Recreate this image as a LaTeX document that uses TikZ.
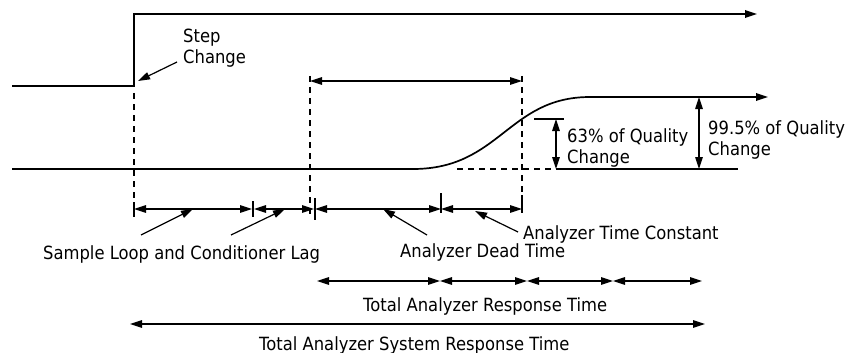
\documentclass[tikz,border=0pt]{standalone}
\usepackage{fontspec}
\setmainfont[FakeStretch=0.9]{DejaVu Sans}
\usetikzlibrary{arrows.meta}

\begin{document}
\begin{tikzpicture}[x=1pt, y=-1pt, >={Triangle[length=12pt,width=7.5pt]},
    signal/.style={line width=1.7pt},
    dim/.style={line width=1.2pt},
    guide/.style={line width=1.2pt, dash pattern=on 6pt off 5pt},
    lbl/.style={inner sep=0pt, font=\fontsize{18.2}{21.5}\selectfont},
    lbltwo/.style={lbl, align=left, anchor=north west}]
    \useasboundingbox (0,0) rectangle (849,353);

    \def\ystep{14}
    \def\yzero{86}
    \def\ybase{169}
    \def\ytop{97}
    \def\ydim{209}

    % step input
    \draw[signal,->] (12,\yzero) -- (134,\yzero) -- (134,\ystep) -- (757,\ystep);
    \node[lbltwo] (stepchg) at (183,28.3) {Step\\Change};
    \coordinate (steptail) at (177,62);
    \coordinate (stephead) at (138,81);
    \draw[dim,->] (steptail) -- (stephead);

    % analyzer response
    \draw[signal,->] (12,\ybase) -- (413,\ybase) .. controls (500,\ybase) and (508,\ytop) .. (590,\ytop) -- (768,\ytop);
    \draw[guide] (457,\ybase) -- (556,\ybase);
    \draw[signal] (556,\ybase) -- (738,\ybase);

    % guide lines
    \draw[guide] (134,93) -- (134,217);
    \draw[guide] (310,76) -- (310,215);
    \draw[guide] (522,76) -- (522,213);
    \draw[dim,<->] (310,81) -- (522,81);

    % quality change
    \draw[dim] (534,119) -- (564,119);
    \draw[dim,<->] (556,119) -- (556,\ybase);
    \node[lbltwo] (q63) at (567,128) {63\% of Quality\\Change};
    \draw[dim,<->] (699,\ytop) -- (699,\ybase);
    \node[lbltwo] (q995) at (708,120.3) {99.5\% of Quality\\Change};

    % time intervals
    \foreach \x/\a/\b in {134/202/217, 253/201/217, 315/198/220, 441/193/213, 522/195/213}
        \draw[dim] (\x,\a) -- (\x,\b);
    \foreach \a/\b in {134/252, 254/314, 315/441, 441/522}
        \draw[dim,<->] (\a,\ydim) -- (\b,\ydim);

    \node[lbl, anchor=base west] (lag) at (43,259) {Sample Loop and Conditioner Lag};
    \node[lbl, anchor=base west] (dead) at (400,257) {Analyzer Dead Time};
    \node[lbl, anchor=base west] (tconst) at (523,239) {Analyzer Time Constant};

    \coordinate (lagtaila) at (141,235);
    \coordinate (lagheada) at (193,\ydim);
    \coordinate (lagtailb) at (231,235);
    \coordinate (lagheadb) at (285,\ydim);
    \coordinate (deadtail) at (427,235);
    \coordinate (deadhead) at (383,\ydim);
    \coordinate (tctail) at (518,232);
    \coordinate (tchead) at (475,211);
    \draw[dim,->] (lagtaila) -- (lagheada);
    \draw[dim,->] (lagtailb) -- (lagheadb);
    \draw[dim,->] (deadtail) -- (deadhead);
    \draw[dim,->] (tctail) -- (tchead);

    % totals
    \foreach \a/\b in {317/440, 440/527, 527/613, 613/702}
        \draw[dim,<->] (\a,281) -- (\b,281);
    \node[lbl, anchor=base west] (resp) at (363,311) {Total Analyzer Response Time};
    \draw[dim,<->] (130,324) -- (705,324);
    \node[lbl, anchor=base west] (sysresp) at (259,350) {Total Analyzer System Response Time};
\end{tikzpicture}
\end{document}
